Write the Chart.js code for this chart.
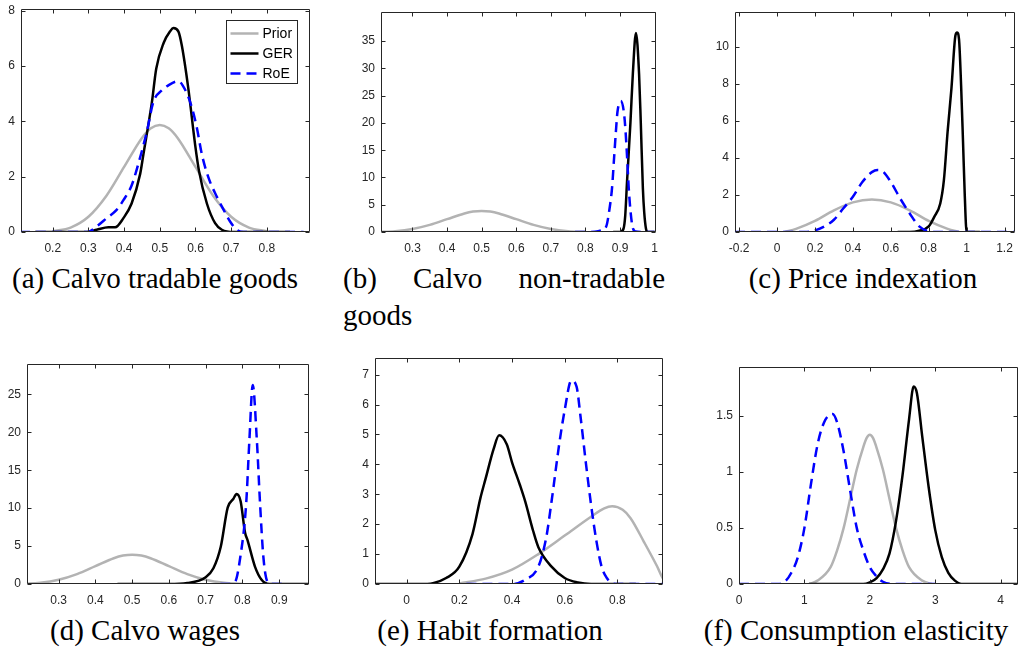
<!DOCTYPE html>
<html>
<head>
<meta charset="utf-8">
<script src="https://cdn.jsdelivr.net/npm/chart.js@4.4.1/dist/chart.umd.min.js"></script>
<style>
  html, body { margin: 0; padding: 0; background: #fff; overflow: hidden; }
  body { width: 1022px; height: 651px; position: relative; }
  canvas { position: absolute; }
  .cap { position: absolute; font-family: "Liberation Serif", serif; font-size: 29px; line-height: 37px; color: #000; white-space: nowrap; transform: translateX(-50%); }
  .capb { position: absolute; font-family: "Liberation Serif", serif; font-size: 29px; line-height: 37px; color: #000; width: 322px; }
  .capb .l1 { display: flex; justify-content: space-between; }
</style>
</head>
<body>
<div class="cap" style="left:155px; top:260px;">(a) Calvo tradable goods</div>
<div class="capb" style="left:343px; top:260px;"><div class="l1"><span>(b)</span><span>Calvo</span><span>non-tradable</span></div><div>goods</div></div>
<div class="cap" style="left:863px; top:260px;">(c) Price indexation</div>
<div class="cap" style="left:145px; top:612px;">(d) Calvo wages</div>
<div class="cap" style="left:490px; top:612px;">(e) Habit formation</div>
<div class="cap" style="left:856px; top:612px;">(f) Consumption elasticity</div>
<script>
const seriesLabels = ['Prior', 'GER', 'RoE'];

// prior used for the three Calvo parameters (a, b, d)
const priorCalvo = [[0.2,0.03],[0.25,0.16],[0.3,0.55],[0.35,1.3],[0.4,2.35],[0.45,3.4],[0.475,3.75],[0.5,3.87],[0.525,3.75],[0.55,3.4],[0.6,2.35],[0.65,1.3],[0.7,0.55],[0.75,0.16],[0.8,0.03]];

// (a) Calvo tradable goods
const gerTradable = [[0.15,0],[0.295,0],[0.323,0.08],[0.356,0.17],[0.375,0.17],[0.398,0.5],[0.421,1.03],[0.445,2.1],[0.454,2.8],[0.478,4.7],[0.49,5.9],[0.511,6.84],[0.529,7.25],[0.538,7.37],[0.552,7.25],[0.562,6.72],[0.58,5.18],[0.599,3.16],[0.61,2.2],[0.632,1.03],[0.655,0.32],[0.674,0.08],[0.707,0],[0.865,0]];
const roeTradable = [[0.108,0],[0.298,0],[0.323,0.2],[0.351,0.5],[0.379,0.8],[0.398,1.15],[0.421,1.68],[0.445,2.7],[0.464,3.64],[0.482,4.7],[0.506,5.12],[0.524,5.3],[0.552,5.45],[0.564,5.3],[0.585,4.7],[0.604,3.76],[0.618,2.8],[0.636,1.98],[0.66,1.27],[0.679,0.8],[0.697,0.38],[0.716,0.08],[0.735,0],[0.903,0]];

// (b) Calvo non-tradable goods
const gerNonTradable = [[0.88,0],[0.9,0],[0.91,0.6],[0.915,3],[0.92,9],[0.93,20],[0.937,29],[0.946,36.5],[0.955,29],[0.96,20],[0.966,8],[0.97,3.5],[0.975,0.6],[0.98,0],[1.0,0]];
const roeNonTradable = [[0.77,0],[0.8,0],[0.827,0.05],[0.846,0.3],[0.86,1],[0.869,4],[0.877,8.2],[0.883,13.8],[0.888,18.4],[0.8925,22],[0.902,24],[0.911,22],[0.916,18.4],[0.921,13],[0.925,8.2],[0.93,4],[0.937,0.7],[0.945,0.1],[0.96,0],[1.0,0]];

// (c) Price indexation
const priorIndex = [[0.04,0],[0.1,0.17],[0.2,0.6],[0.3,1.17],[0.4,1.6],[0.5,1.755],[0.6,1.6],[0.7,1.17],[0.8,0.6],[0.9,0.17],[0.96,0]];
const gerIndex = [[0.636,0],[0.7,0],[0.75,0.07],[0.8,0.3],[0.83,0.83],[0.861,1.54],[0.88,2.78],[0.9,5.44],[0.92,7.75],[0.941,10.6],[0.95,10.76],[0.96,10.4],[0.971,7.9],[0.981,4.9],[0.99,2.07],[1.0,0],[1.07,0]];
const roeIndex = [[-0.222,0],[0.15,0],[0.2,0.09],[0.25,0.3],[0.3,0.66],[0.35,1.28],[0.4,1.9],[0.45,2.7],[0.5,3.23],[0.53,3.35],[0.55,3.32],[0.6,2.7],[0.65,1.8],[0.7,1.0],[0.75,0.3],[0.8,0.04],[0.85,0],[1.253,0]];

// (d) Calvo wages
const gerWage = [[0.46,0],[0.6,0],[0.65,0.13],[0.7,0.9],[0.721,2.07],[0.741,4.9],[0.76,10.1],[0.775,11.2],[0.784,11.85],[0.795,10.9],[0.807,6.8],[0.814,5.75],[0.834,2.3],[0.852,0.56],[0.873,0],[0.981,0]];
const roeWage = [[0.74,0],[0.761,0],[0.78,0.3],[0.794,3.5],[0.81,10.5],[0.819,19.1],[0.828,26.25],[0.839,19.1],[0.848,10.5],[0.857,3.5],[0.868,0.3],[0.88,0],[0.907,0]];

// (e) Habit formation
const priorHabit = [[0.2,0.02],[0.3,0.18],[0.4,0.48],[0.5,1.0],[0.6,1.62],[0.7,2.25],[0.75,2.53],[0.78,2.6],[0.82,2.48],[0.85,2.2],[0.9,1.42],[0.95,0.6],[0.973,0.18],[1.0,0]];
const gerHabit = [[-0.12,0],[0.05,0],[0.1,0.03],[0.15,0.2],[0.2,0.58],[0.25,1.67],[0.28,2.87],[0.3,3.53],[0.33,4.51],[0.351,4.97],[0.38,4.67],[0.4,4.07],[0.43,3.31],[0.45,2.76],[0.48,1.78],[0.5,1.23],[0.55,0.58],[0.6,0.2],[0.65,0.05],[0.7,0],[0.87,0]];
const roeHabit = [[0.227,0],[0.4,0],[0.45,0.14],[0.5,0.58],[0.53,1.56],[0.55,2.76],[0.58,4.73],[0.6,5.82],[0.625,6.8],[0.645,6.6],[0.66,5.6],[0.68,4.07],[0.7,2.65],[0.72,1.45],[0.74,0.58],[0.76,0.2],[0.78,0.03],[0.8,0],[0.973,0]];

// (f) Consumption elasticity
const priorElast = [[1.07,0],[1.2,0.03],[1.4,0.15],[1.5,0.3],[1.6,0.5],[1.7,0.76],[1.8,1.02],[1.9,1.22],[1.95,1.3],[2.0,1.33],[2.05,1.3],[2.1,1.22],[2.2,1.02],[2.3,0.76],[2.4,0.5],[2.5,0.3],[2.6,0.15],[2.8,0.03],[2.95,0]];
const gerElast = [[1.07,0],[1.9,0],[2.0,0.015],[2.1,0.05],[2.2,0.13],[2.3,0.27],[2.4,0.56],[2.5,0.97],[2.6,1.47],[2.67,1.76],[2.72,1.7],[2.8,1.32],[2.9,0.86],[3.0,0.48],[3.1,0.24],[3.2,0.1],[3.3,0.03],[3.4,0],[4.265,0]];
const roeElast = [[0,0],[0.6,0],[0.7,0.02],[0.8,0.1],[0.9,0.24],[1.0,0.5],[1.1,0.89],[1.2,1.24],[1.3,1.44],[1.43,1.515],[1.5,1.44],[1.6,1.18],[1.7,0.83],[1.8,0.5],[1.9,0.3],[2.0,0.15],[2.1,0.07],[2.2,0.02],[2.4,0],[3.0,0]];

// tick labels
const xTicksA = [0.2,0.3,0.4,0.5,0.6,0.7,0.8];
const yTicksA = [0,2,4,6,8];
const xTicksB = [0.3,0.4,0.5,0.6,0.7,0.8,0.9,1];
const yTicksB = [0,5,10,15,20,25,30,35];
const xTicksC = [-0.2,0,0.2,0.4,0.6,0.8,1,1.2];
const yTicksC = [0,2,4,6,8,10];
const xTicksD = [0.3,0.4,0.5,0.6,0.7,0.8,0.9];
const yTicksD = [0,5,10,15,20,25];
const xTicksE = [0,0.2,0.4,0.6,0.8];
const yTicksE = [0,1,2,3,4,5,6,7];
const xTicksF = [0,1,2,3,4];
const yTicksF = [0,0.5,1,1.5];

// plot boxes [left, top, right, bottom] in page pixels
const panels = [
  {box:[21,6,310,232],  xr:[0.111,0.921], ymax:8.05,  xt:xTicksA, yt:yTicksA, prior:priorCalvo, ger:gerTradable, roe:roeTradable, legend:true},
  {box:[381,9,663,232], xr:[0.209,1.005], ymax:40.3,  xt:xTicksB, yt:yTicksB, prior:priorCalvo, ger:gerNonTradable, roe:roeNonTradable},
  {box:[735,9,1018,232],xr:[-0.222,1.253],ymax:11.86, xt:xTicksC, yt:yTicksC, prior:priorIndex, ger:gerIndex, roe:roeIndex},
  {box:[27,361,309,584],xr:[0.214,0.981], ymax:28.98, xt:xTicksD, yt:yTicksD, prior:priorCalvo, ger:gerWage, roe:roeWage},
  {box:[375,355,663,584],xr:[-0.12,0.973],ymax:7.55,  xt:xTicksE, yt:yTicksE, prior:priorHabit, ger:gerHabit, roe:roeHabit},
  {box:[739,364,1018,584],xr:[0,4.265],  ymax:1.932, xt:xTicksF, yt:yTicksF, prior:priorElast, ger:gerElast, roe:roeElast}
];

const padL = 48, padB = 28, padT = 10, padR = 4;
const axisColor = '#262626';
const tickFont = {family: '"Liberation Sans", Arial, sans-serif', size: 12};

// matlab-like box with inward ticks on all four sides, plus legend for (a)
const boxAxes = {
  id: 'boxAxes',
  afterDraw(chart) {
    const ctx = chart.ctx;
    const a = chart.chartArea;
    const xs = chart.scales.x, ys = chart.scales.y;
    ctx.save();
    ctx.strokeStyle = axisColor;
    ctx.lineWidth = 1;
    const l = Math.round(a.left) + 0.5, r = Math.round(a.right) - 0.5;
    const t = Math.round(a.top) + 0.5, b = Math.round(a.bottom) - 0.5;
    ctx.beginPath();
    ctx.rect(l, t, r - l, b - t);
    xs.ticks.forEach(tk => {
      const p = Math.round(xs.getPixelForValue(tk.value)) + 0.5;
      ctx.moveTo(p, b); ctx.lineTo(p, b - 4);
      ctx.moveTo(p, t); ctx.lineTo(p, t + 4);
    });
    ys.ticks.forEach(tk => {
      const p = Math.round(ys.getPixelForValue(tk.value)) + 0.5;
      ctx.moveTo(l, p); ctx.lineTo(l + 4, p);
      ctx.moveTo(r, p); ctx.lineTo(r - 4, p);
    });
    ctx.stroke();

    if (chart.options.plugins.boxAxes && chart.options.plugins.boxAxes.legend) {
      const bx = Math.round(a.right) - 84 + 0.5, by = Math.round(a.top) + 11 + 0.5;
      ctx.fillStyle = '#fff';
      ctx.fillRect(bx, by, 71, 63);
      ctx.strokeRect(bx, by, 71, 63);
      const sets = [...chart.data.datasets].sort((p, q) => p.legendIdx - q.legendIdx);
      sets.forEach((ds, i) => {
        const yy = by + 13 + i * 20;
        ctx.beginPath();
        ctx.strokeStyle = ds.borderColor;
        ctx.lineWidth = ds.borderWidth;
        ctx.setLineDash(ds.borderDash || []);
        ctx.moveTo(bx + 4, yy); ctx.lineTo(bx + 32, yy);
        ctx.stroke();
        ctx.setLineDash([]);
        ctx.fillStyle = '#000';
        ctx.font = '14px "Liberation Sans", Arial, sans-serif';
        ctx.textBaseline = 'middle';
        ctx.fillText(ds.label, bx + 36, yy + 1);
      });
    }
    ctx.restore();
  }
};

function pts(arr) { return arr.map(p => ({x: p[0], y: p[1]})); }
function fmt(v) { return String(Math.round(v * 100) / 100); }

panels.forEach(p => {
  const [L, T, R, B] = p.box;
  const cv = document.createElement('canvas');
  const w = R - L + padL + padR, h = B - T + padT + padB;
  cv.width = w; cv.height = h;
  cv.style.left = (L - padL) + 'px';
  cv.style.top = (T - padT) + 'px';
  cv.style.width = w + 'px'; cv.style.height = h + 'px';
  document.body.appendChild(cv);

  const common = {showLine: true, pointRadius: 0, fill: false, borderWidth: 2.5, cubicInterpolationMode: 'monotone'};
  new Chart(cv, {
    type: 'line',
    data: {
      datasets: [
        {...common, label: seriesLabels[0], legendIdx: 0, order: 2, data: pts(p.prior), borderColor: '#b3b3b3'},
        {...common, label: seriesLabels[1], legendIdx: 1, order: 1, data: pts(p.ger), borderColor: '#000000'},
        {...common, label: seriesLabels[2], legendIdx: 2, order: 0, data: pts(p.roe), borderColor: '#0000ff', borderDash: [10, 6]}
      ]
    },
    options: {
      responsive: false,
      animation: false,
      devicePixelRatio: 1,
      layout: {padding: {top: padT, right: padR, left: 0, bottom: 0}},
      plugins: {legend: {display: false}, tooltip: {enabled: false}, boxAxes: {legend: !!p.legend}},
      scales: {
        x: {
          type: 'linear', min: p.xr[0], max: p.xr[1],
          grid: {display: false, drawTicks: false}, border: {display: false},
          ticks: {font: tickFont, color: axisColor, padding: 9, maxRotation: 0, autoSkip: false, callback: fmt},
          afterBuildTicks: s => { s.ticks = p.xt.map(v => ({value: v})); },
          afterFit: s => { s.height = padB; }
        },
        y: {
          type: 'linear', min: 0, max: p.ymax,
          grid: {display: false, drawTicks: false}, border: {display: false},
          ticks: {font: tickFont, color: axisColor, padding: 6, autoSkip: false, callback: fmt},
          afterBuildTicks: s => { s.ticks = p.yt.map(v => ({value: v})); },
          afterFit: s => { s.width = padL; }
        }
      }
    },
    plugins: [boxAxes]
  });
});
</script>
</body>
</html>
